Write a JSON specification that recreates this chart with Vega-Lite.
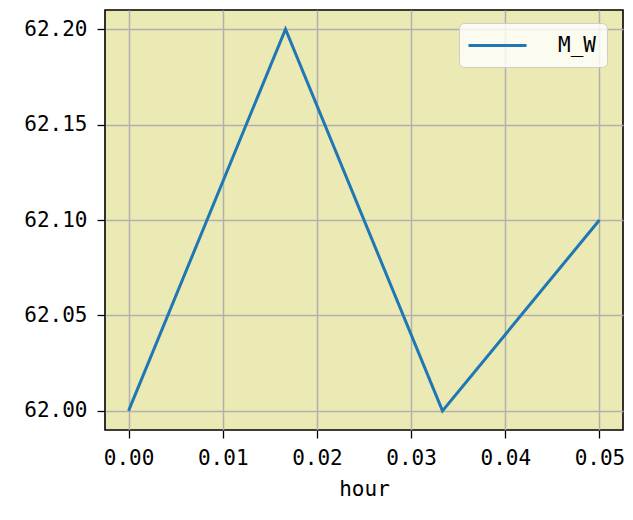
{
  "$schema": "https://vega.github.io/schema/vega-lite/v6.json",
  "width": 518,
  "height": 420,
  "autosize": {"type": "none"},
  "padding": {"left": 105, "top": 10, "right": 10, "bottom": 90},
  "background": "white",
  "data": {
    "values": [
      {"hour": 0.0, "M_W": 62.0, "series": "M_W"},
      {"hour": 0.0166667, "M_W": 62.2, "series": "M_W"},
      {"hour": 0.0333333, "M_W": 62.0, "series": "M_W"},
      {"hour": 0.05, "M_W": 62.1, "series": "M_W"}
    ]
  },
  "mark": {"type": "line", "strokeWidth": 3, "clip": true},
  "encoding": {
    "x": {
      "field": "hour",
      "type": "quantitative",
      "title": "hour",
      "scale": {"domain": [-0.0025, 0.0525], "nice": false, "zero": false},
      "axis": {"values": [0, 0.01, 0.02, 0.03, 0.04, 0.05], "format": ".2f", "labelPadding": 9, "titlePadding": 10}
    },
    "y": {
      "field": "M_W",
      "type": "quantitative",
      "title": null,
      "scale": {"domain": [61.99, 62.21], "nice": false, "zero": false},
      "axis": {"values": [62.0, 62.05, 62.1, 62.15, 62.2], "format": ".2f", "labelPadding": 10}
    },
    "color": {
      "field": "series",
      "type": "nominal",
      "scale": {"range": ["#1f77b4"]},
      "legend": {
        "title": null,
        "orient": "none",
        "legendX": 354,
        "legendY": 13,
        "symbolType": "M-3,0H3",
        "symbolSize": 374,
        "symbolStrokeWidth": 3,
        "symbolOffset": 16,
        "labelOffset": 49,
        "labelFont": "DejaVu Sans Mono",
        "labelFontSize": 21,
        "labelColor": "black",
        "padding": 11,
        "fillColor": "rgba(255,255,255,0.8)",
        "strokeColor": "#cccccc",
        "cornerRadius": 5
      }
    }
  },
  "config": {
    "view": {"fill": "#ECEAB4", "stroke": "black", "strokeWidth": 1.6},
    "axis": {
      "labelFont": "DejaVu Sans Mono",
      "labelFontSize": 21,
      "labelColor": "black",
      "titleFont": "DejaVu Sans Mono",
      "titleFontSize": 21,
      "titleFontWeight": "normal",
      "titleColor": "black",
      "domain": false,
      "tickColor": "black",
      "tickSize": 8,
      "tickWidth": 1.3,
      "grid": true,
      "gridColor": "#b0b0b0",
      "gridWidth": 1.5,
      "gridOpacity": 1
    }
  }
}
